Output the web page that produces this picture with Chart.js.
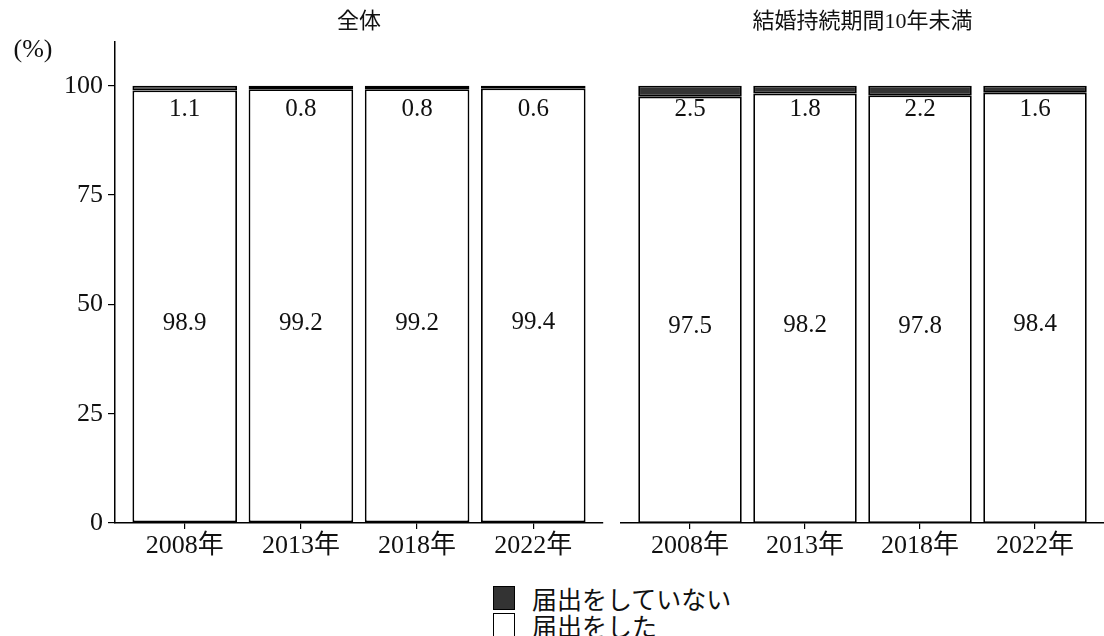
<!DOCTYPE html>
<html>
<head>
<meta charset="utf-8">
<script src="https://cdn.jsdelivr.net/npm/chart.js@4.4.1/dist/chart.umd.min.js"></script>
<style>
  body { margin: 0; background: #fff; }
  #wrap { position: relative; width: 1104px; height: 636px; background: #fff; overflow: hidden; }
  #left { position: absolute; left: 0; top: 0; }
  #right { position: absolute; left: 606px; top: 0; }
  #legend { position: absolute; left: 493px; top: 584px; font: 25px "Liberation Serif", "Noto Sans CJK JP", serif; color: #111; }
  .item { display: flex; align-items: center; height: 27px; }
  .box { width: 22px; height: 24px; border: 1.5px solid #000; box-sizing: border-box; margin-right: 17px; }
</style>
</head>
<body>
<div id="wrap">
  <div id="left"><canvas id="chartAll" width="606" height="560"></canvas></div>
  <div id="right"><canvas id="chartRecent" width="498" height="560"></canvas></div>
  <div id="legend"></div>
</div>
<script>
const years = ['2008年', '2013年', '2018年', '2022年'];
const allDone = [98.9, 99.2, 99.2, 99.4];
const allNotDone = [1.1, 0.8, 0.8, 0.6];
const recentDone = [97.5, 98.2, 97.8, 98.4];
const recentNotDone = [2.5, 1.8, 2.2, 1.6];
const yTicks = [0, 25, 50, 75, 100];
const panelTitles = ['全体', '結婚持続期間10年未満'];
const seriesNames = ['届出をしていない', '届出をした'];
const seriesColors = ['#333333', '#ffffff'];

const FONT = '"Liberation Serif", "Noto Sans CJK JP", serif';

// 値ラベル・パネル見出し
const labelPlugin = {
    id: 'valueLabels',
    afterDatasetsDraw(chart, args, opts) {
        const { ctx, chartArea } = chart;
        const x = chart.scales.x;
        const y = chart.scales.y;
        ctx.save();
        ctx.fillStyle = '#111';
        ctx.textAlign = 'center';
        ctx.textBaseline = 'middle';
        ctx.font = '25px ' + FONT;
        opts.done.forEach((v, i) => {
            const px = x.getPixelForValue(i);
            ctx.fillText(v.toFixed(1), px, y.getPixelForValue(v / 2) + 17);
            ctx.fillText(opts.notDone[i].toFixed(1), px, y.getPixelForValue(100) + 24);
        });
        ctx.font = '22px ' + FONT;
        ctx.fillText(opts.title, (chartArea.left + chartArea.right) / 2, 22);
        if (opts.unit) {
            ctx.font = '26px ' + FONT;
            ctx.fillText('(%)', 33, 50);
        }
        ctx.restore();
    }
};

function makeChart(id, done, notDone, title, showY) {
    const ctx = document.getElementById(id).getContext('2d');
    return new Chart(ctx, {
        type: 'bar',
        data: {
            datasets: [
                {
                    label: seriesNames[1],
                    data: done.map((v, i) => ({ x: i, y: v })),
                    backgroundColor: seriesColors[1],
                    borderColor: '#000',
                    borderWidth: 1.8,
                    borderSkipped: false
                },
                {
                    label: seriesNames[0],
                    data: notDone.map((v, i) => ({ x: i, y: v })),
                    backgroundColor: seriesColors[0],
                    borderColor: '#000',
                    borderWidth: 1.8,
                    borderSkipped: false
                }
            ]
        },
        options: {
            responsive: false,
            animation: false,
            categoryPercentage: 1,
            barPercentage: 0.9,
            layout: {
                padding: { top: 42, right: showY ? 3 : 0, left: showY ? 0 : 15, bottom: 0 }
            },
            scales: {
                x: {
                    type: 'linear',
                    stacked: true,
                    offset: false,
                    min: -0.6,
                    max: 3.6,
                    afterBuildTicks: (scale) => {
                        scale.ticks = years.map((_, i) => ({ value: i }));
                    },
                    afterFit: (scale) => { scale.height = 37; },
                    grid: {
                        offset: false,
                        drawOnChartArea: false,
                        drawTicks: true,
                        tickLength: 6,
                        color: '#000',
                        lineWidth: 1.2
                    },
                    border: { display: true, color: '#000', width: 1.5 },
                    ticks: {
                        padding: 2,
                        color: '#111',
                        font: { family: FONT, size: 26 },
                        maxRotation: 0,
                        autoSkip: false,
                        callback: (v) => years[v] || ''
                    }
                },
                y: {
                    display: showY,
                    stacked: true,
                    min: 0,
                    max: 110,
                    afterBuildTicks: (scale) => {
                        scale.ticks = yTicks.map(v => ({ value: v }));
                    },
                    afterFit: (scale) => { scale.width = showY ? 115 : 0; },
                    grid: {
                        drawOnChartArea: false,
                        drawTicks: true,
                        tickLength: 7,
                        color: '#000',
                        lineWidth: 1.2
                    },
                    border: { display: true, color: '#000', width: 1.5 },
                    ticks: {
                        padding: 5,
                        color: '#111',
                        font: { family: FONT, size: 26 }
                    }
                }
            },
            plugins: {
                legend: { display: false },
                tooltip: { enabled: false },
                valueLabels: { done: done, notDone: notDone, title: title, unit: showY }
            }
        },
        plugins: [labelPlugin]
    });
}

makeChart('chartAll', allDone, allNotDone, panelTitles[0], true);
makeChart('chartRecent', recentDone, recentNotDone, panelTitles[1], false);

// 凡例
const legend = document.getElementById('legend');
seriesNames.forEach((name, i) => {
    const item = document.createElement('div');
    item.className = 'item';
    const box = document.createElement('span');
    box.className = 'box';
    box.style.background = seriesColors[i];
    const text = document.createElement('span');
    text.textContent = name;
    item.appendChild(box);
    item.appendChild(text);
    legend.appendChild(item);
});
</script>
</body>
</html>
